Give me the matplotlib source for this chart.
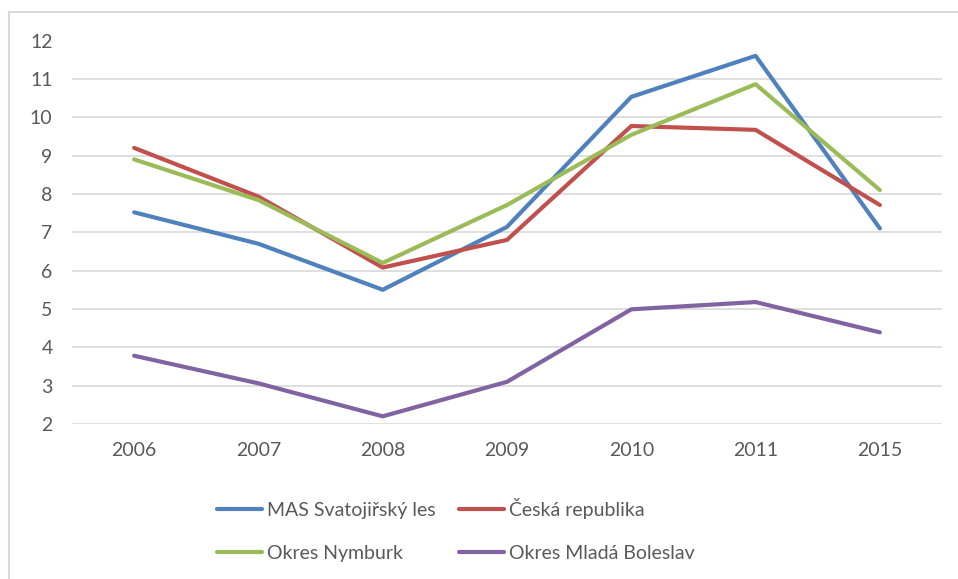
import matplotlib
matplotlib.use("Agg")
import matplotlib.pyplot as plt
from matplotlib.patches import Rectangle

years = ["2006", "2007", "2008", "2009", "2010", "2011", "2015"]
mas = [7.52, 6.7, 5.5, 7.14, 10.53, 11.6, 7.1]
cr = [9.2, 7.93, 6.08, 6.8, 9.77, 9.67, 7.71]
nymburk = [8.9, 7.84, 6.2, 7.71, 9.54, 10.86, 8.1]
mb = [3.78, 3.06, 2.2, 3.1, 4.99, 5.18, 4.39]
series_names = ["MAS Svatojiřský les", "Česká republika", "Okres Nymburk", "Okres Mladá Boleslav"]
colors = ["#4F81BD", "#C0504D", "#9BBB59", "#8064A2"]
yticks = list(range(2, 13))

plt.rcParams['font.family'] = ['Lato', 'DejaVu Sans']

W, H = 958, 579
fig = plt.figure(figsize=(W / 100, H / 100), dpi=100)
fig.patch.set_facecolor("white")

# chart frame
fig.patches.append(Rectangle((9 / W, -0.1), 1.0, 1 - 12 / H + 0.1, transform=fig.transFigure,
                             fill=False, edgecolor="#D9D9D9", linewidth=1.5))

left, right = 72, 942
top, bottom = 40.5, 424
ax = fig.add_axes([left / W, 1 - bottom / H, (right - left) / W, (bottom - top) / H])
x = list(range(len(years)))
for vals, name, c in zip([mas, cr, nymburk, mb], series_names, colors):
    ax.plot(x, vals, color=c, lw=3.0, label=name, solid_capstyle="round", solid_joinstyle="round")

ax.set_xlim(-0.5, len(years) - 0.5)
ax.set_ylim(2, 12)
ax.set_yticks(yticks)
ax.set_xticks(x)
ax.set_xticklabels(years)
ax.grid(axis="y", color="#D9D9D9", lw=1.2)
ax.set_axisbelow(True)
for s in ax.spines.values():
    s.set_visible(False)
ax.tick_params(length=0, labelsize=14, colors="#595959")
ax.tick_params(axis="y", pad=14)
ax.tick_params(axis="x", pad=13)

h, l = ax.get_legend_handles_labels()
order = [0, 2, 1, 3]
leg = fig.legend([h[i] for i in order], [l[i] for i in order], ncol=2, loc="center",
                 bbox_to_anchor=(456 / W, 1 - 530 / H),
                 frameon=False, fontsize=14, handlelength=2.3, handletextpad=0.26,
                 columnspacing=1.2, labelspacing=1.35)
for t in leg.get_texts():
    t.set_color("#595959")

fig.savefig("out.png", dpi=100, facecolor="white")
